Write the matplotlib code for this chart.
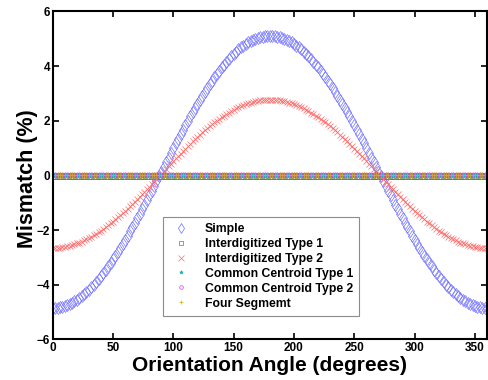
import matplotlib
matplotlib.use('Agg')
import matplotlib.pyplot as plt

plt.rcParams['font.family'] = 'Liberation Sans'
plt.rcParams['font.weight'] = 'bold'

# orientation angle in degrees, one sample every 2 degrees
angles = list(range(0, 361, 2))

simple = [
    -4.85, -4.85, -4.84, -4.82, -4.80, -4.77, -4.74, -4.70, -4.66, -4.61,
    -4.55, -4.49, -4.42, -4.35, -4.27, -4.18, -4.09, -4.00, -3.90, -3.79,
    -3.68, -3.57, -3.45, -3.33, -3.20, -3.07, -2.94, -2.80, -2.65, -2.51,
    -2.36, -2.21, -2.05, -1.90, -1.74, -1.57, -1.41, -1.24, -1.07, -0.91,
    -0.73, -0.56, -0.39, -0.22, -0.04, 0.13, 0.30, 0.48, 0.65, 0.82,
    1.00, 1.17, 1.34, 1.50, 1.67, 1.83, 2.00, 2.16, 2.31, 2.47,
    2.62, 2.77, 2.92, 3.06, 3.20, 3.33, 3.46, 3.59, 3.71, 3.83,
    3.95, 4.05, 4.16, 4.26, 4.35, 4.44, 4.53, 4.61, 4.68, 4.75,
    4.81, 4.87, 4.92, 4.96, 5.00, 5.03, 5.06, 5.08, 5.10, 5.11,
    5.11,
    5.11, 5.10, 5.08, 5.06, 5.03, 5.00, 4.96, 4.92, 4.87, 4.81,
    4.75, 4.68, 4.61, 4.53, 4.44, 4.35, 4.26, 4.16, 4.05, 3.95,
    3.83, 3.71, 3.59, 3.46, 3.33, 3.20, 3.06, 2.92, 2.77, 2.62,
    2.47, 2.31, 2.16, 2.00, 1.83, 1.67, 1.50, 1.34, 1.17, 1.00,
    0.82, 0.65, 0.48, 0.30, 0.13, -0.04, -0.22, -0.39, -0.56, -0.73,
    -0.91, -1.07, -1.24, -1.41, -1.57, -1.74, -1.90, -2.05, -2.21, -2.36,
    -2.51, -2.65, -2.80, -2.94, -3.07, -3.20, -3.33, -3.45, -3.57, -3.68,
    -3.79, -3.90, -4.00, -4.09, -4.18, -4.27, -4.35, -4.42, -4.49, -4.55,
    -4.61, -4.66, -4.70, -4.74, -4.77, -4.80, -4.82, -4.84, -4.85, -4.85,
]

interdig2 = [
    -2.66, -2.65, -2.65, -2.64, -2.63, -2.61, -2.60, -2.57, -2.55, -2.52,
    -2.49, -2.46, -2.42, -2.38, -2.34, -2.29, -2.24, -2.19, -2.14, -2.08,
    -2.02, -1.96, -1.89, -1.83, -1.76, -1.69, -1.61, -1.54, -1.46, -1.38,
    -1.30, -1.22, -1.13, -1.05, -0.96, -0.87, -0.78, -0.69, -0.60, -0.51,
    -0.42, -0.32, -0.23, -0.13, -0.04, 0.06, 0.15, 0.24, 0.34, 0.43,
    0.53, 0.62, 0.71, 0.80, 0.89, 0.98, 1.07, 1.16, 1.24, 1.33,
    1.41, 1.49, 1.57, 1.65, 1.72, 1.80, 1.87, 1.94, 2.00, 2.07,
    2.13, 2.19, 2.25, 2.30, 2.35, 2.40, 2.45, 2.49, 2.53, 2.57,
    2.60, 2.63, 2.66, 2.69, 2.71, 2.72, 2.74, 2.75, 2.76, 2.76,
    2.77,
    2.76, 2.76, 2.75, 2.74, 2.72, 2.71, 2.69, 2.66, 2.63, 2.60,
    2.57, 2.53, 2.49, 2.45, 2.40, 2.35, 2.30, 2.25, 2.19, 2.13,
    2.07, 2.00, 1.94, 1.87, 1.80, 1.72, 1.65, 1.57, 1.49, 1.41,
    1.33, 1.24, 1.16, 1.07, 0.98, 0.89, 0.80, 0.71, 0.62, 0.53,
    0.43, 0.34, 0.24, 0.15, 0.06, -0.04, -0.13, -0.23, -0.32, -0.42,
    -0.51, -0.60, -0.69, -0.78, -0.87, -0.96, -1.05, -1.13, -1.22, -1.30,
    -1.38, -1.46, -1.54, -1.61, -1.69, -1.76, -1.83, -1.89, -1.96, -2.02,
    -2.08, -2.14, -2.19, -2.24, -2.29, -2.34, -2.38, -2.42, -2.46, -2.49,
    -2.52, -2.55, -2.57, -2.60, -2.61, -2.63, -2.64, -2.65, -2.65, -2.66,
]

# the matched layouts stay flat at about zero
interdig1 = [-0.03] * len(angles)
centroid1 = [0.00] * len(angles)
centroid2 = [0.02] * len(angles)
four_seg = [0.01] * len(angles)

labels = ['Simple', 'Interdigitized Type 1', 'Interdigitized Type 2',
          'Common Centroid Type 1', 'Common Centroid Type 2', 'Four Segmemt']

fig = plt.figure(figsize=(4.88, 3.80), dpi=100)
ax = fig.add_axes([0.108, 0.107, 0.89, 0.863])

ax.plot(angles, simple, 'd', color='#7070ff', mfc='none', ms=6.5, mew=0.5, label=labels[0])
ax.plot(angles, interdig1, 's', color='#30a030', mfc='none', ms=4, mew=0.5, label=labels[1])
ax.plot(angles, interdig2, 'x', color='#ff6a6a', ms=5, mew=0.5, label=labels[2])
ax.plot(angles, centroid1, '*', color='#20b0b0', ms=3.5, mew=0.5, label=labels[3])
ax.plot(angles, centroid2, 'o', color='#e040e0', mfc='none', ms=3.5, mew=0.5, label=labels[4])
ax.plot(angles, four_seg, '+', color='#c8b400', ms=4, mew=0.5, label=labels[5])

ax.set_xlim(0, 360)
ax.set_ylim(-6, 6)
ax.set_xticks(range(0, 351, 50))
ax.set_yticks(range(-6, 7, 2))
ax.tick_params(direction='in', top=True, right=True, length=4, width=1.2,
               labelsize=8.5, pad=2)
for lab in ax.get_xticklabels() + ax.get_yticklabels():
    lab.set_fontweight('bold')
for s in ax.spines.values():
    s.set_linewidth(1.5)

ax.set_xlabel('Orientation Angle (degrees)', fontsize=15, fontweight='bold', labelpad=1)
ax.set_ylabel('Mismatch (%)', fontsize=15.5, fontweight='bold')
ax.yaxis.set_label_coords(-0.034, 0.49)

leg = ax.legend(loc='lower left', bbox_to_anchor=(0.254, 0.072), numpoints=1,
                prop={'weight': 'bold', 'size': 8.8}, fancybox=False,
                edgecolor='#707070', borderpad=0.5, labelspacing=0.24,
                handlelength=2.0, handletextpad=0.9, borderaxespad=0,
                markerscale=0.75)
leg.get_frame().set_linewidth(0.8)

fig.savefig('out.png', dpi=100)
